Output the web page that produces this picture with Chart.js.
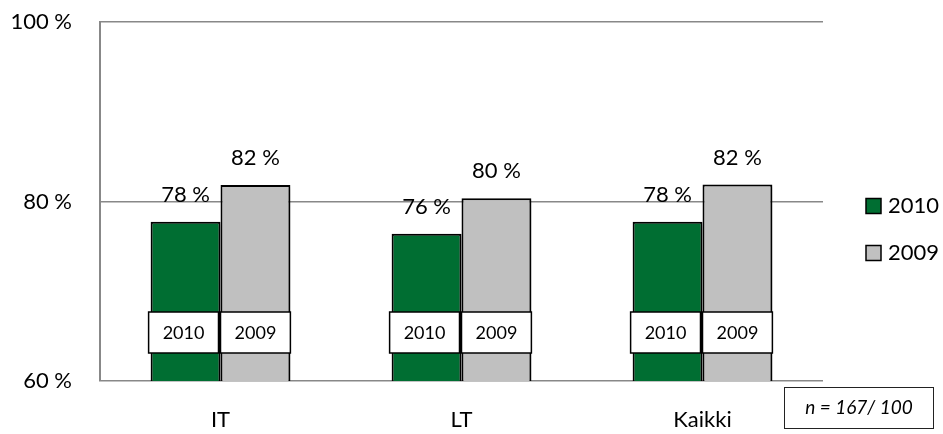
<!DOCTYPE html>
<html>
<head>
<meta charset="utf-8">
<script src="https://cdn.jsdelivr.net/npm/chart.js@4"></script>
<style>
  html, body { margin: 0; padding: 0; background: #fff; }
  #wrap { width: 943px; height: 434px; position: relative; }
</style>
</head>
<body>
<div id="wrap"><canvas id="chart"></canvas></div>
<script>
// Data
const categories = ['IT', 'LT', 'Kaikki'];
const seriesNames = ['2010', '2009'];
const values2010 = [77.75, 76.4, 77.75];
const values2009 = [81.85, 80.35, 81.9];
const yTicks = [60, 80, 100];
const sampleNote = 'n = 167/ 100';

const FONT = 'Lato, "Open Sans", sans-serif';
const GREEN = '#006e32';
const GREY = '#c0c0c0';

// Prosentit palkkien päälle + vuosilaatikot
const barLabels = {
    id: 'barLabels',
    beforeDatasetsDraw(chart) {
        const ctx = chart.ctx;
        ctx.save();
        ctx.shadowColor = 'rgba(0,0,0,0.25)';
        ctx.shadowBlur = 4;
        ctx.shadowOffsetX = 3;
        ctx.shadowOffsetY = 2;
    },
    afterDatasetsDraw(chart) {
        const ctx = chart.ctx;
        ctx.restore();
        ctx.save();
        const bottom = chart.chartArea.bottom;
        chart.data.datasets.forEach((ds, di) => {
            const meta = chart.getDatasetMeta(di);
            meta.data.forEach((bar, i) => {
                // arvo
                ctx.fillStyle = '#000';
                ctx.font = '22px ' + FONT;
                ctx.textAlign = 'center';
                ctx.textBaseline = 'middle';
                ctx.fillText(Math.round(ds.data[i]) + ' %', bar.x, bar.y - 27);

                // vuosi-laatikko
                const w = bar.width;
                const x0 = bar.x - w / 2 - (di === 0 ? 2 : 0);
                const y0 = bottom - 69;
                ctx.fillStyle = '#fff';
                ctx.fillRect(x0, y0, w, 41);
                ctx.strokeStyle = '#000';
                ctx.lineWidth = 1.5;
                ctx.strokeRect(x0, y0, w, 41);
                ctx.fillStyle = '#000';
                ctx.font = '18px ' + FONT;
                ctx.fillText(ds.label, x0 + w / 2, y0 + 21);
            });
        });
        ctx.restore();
    },
    afterDraw(chart) {
        const ctx = chart.ctx;
        ctx.save();
        // selite
        chart.data.datasets.forEach((ds, di) => {
            const cy = 206 + di * 47;
            ctx.fillStyle = ds.backgroundColor;
            ctx.fillRect(866, cy - 7.5, 15, 15);
            ctx.strokeStyle = '#000';
            ctx.lineWidth = 1.5;
            ctx.strokeRect(866, cy - 7.5, 15, 15);
            ctx.fillStyle = '#000';
            ctx.font = '22px ' + FONT;
            ctx.textAlign = 'left';
            ctx.textBaseline = 'middle';
            ctx.fillText(ds.label, 888, cy);
        });
        // n-laatikko
        ctx.strokeStyle = '#222';
        ctx.lineWidth = 1;
        ctx.strokeRect(784.5, 387.5, 149, 41);
        ctx.fillStyle = '#000';
        ctx.font = 'italic 19px ' + FONT;
        ctx.textAlign = 'center';
        ctx.fillText(sampleNote, 859, 408);
        ctx.restore();
    }
};

function initializeChart() {
    const data = {
        labels: categories,
        datasets: [
            {
                label: seriesNames[0],
                data: values2010,
                backgroundColor: GREEN,
                borderColor: '#000',
                borderWidth: 2,
                barPercentage: 1,
                categoryPercentage: 0.58
            },
            {
                label: seriesNames[1],
                data: values2009,
                backgroundColor: GREY,
                borderColor: '#000',
                borderWidth: 2,
                barPercentage: 1,
                categoryPercentage: 0.58
            }
        ]
    };

    const options = {
        responsive: true,
        maintainAspectRatio: false,
        animation: false,
        layout: {
            padding: { top: 22, right: 120, left: 0, bottom: 0 }
        },
        plugins: {
            legend: { display: false },
            tooltip: { enabled: false }
        },
        scales: {
            y: {
                min: 60,
                max: 100,
                afterFit: s => {
                    s.width = 100;
                    s.paddingTop = 13;
                    s.paddingBottom = 13;
                },
                afterBuildTicks: s => { s.ticks = yTicks.map(v => ({ value: v })); },
                grid: {
                    color: '#888',
                    lineWidth: 1.5,
                    drawTicks: false
                },
                border: { color: '#888', width: 2 },
                ticks: {
                    padding: 28,
                    color: '#000',
                    font: { family: FONT, size: 22 },
                    callback: v => v + ' %'
                }
            },
            x: {
                afterFit: s => { s.height = 53; },
                grid: { display: false, drawTicks: false },
                border: { display: false },
                ticks: {
                    padding: 26,
                    color: '#000',
                    font: { family: FONT, size: 22 }
                }
            }
        }
    };

    new Chart(document.getElementById('chart'), {
        type: 'bar',
        data: data,
        options: options,
        plugins: [barLabels]
    });
}

window.addEventListener('load', () => {
    initializeChart();
});
</script>
</body>
</html>
